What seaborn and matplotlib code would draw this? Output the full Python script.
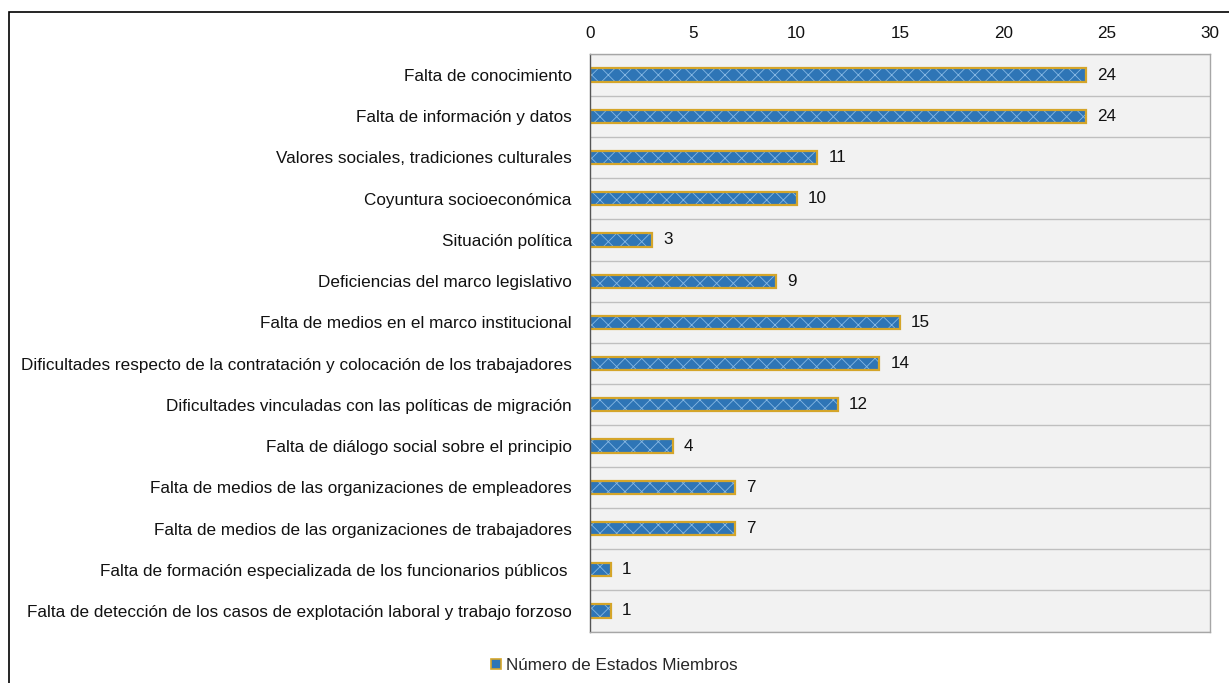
import pandas as pd
import seaborn as sns
import matplotlib.pyplot as plt
from matplotlib.patches import Patch, Rectangle

categories = [
    "Falta de conocimiento",
    "Falta de información y datos",
    "Valores sociales, tradiciones culturales",
    "Coyuntura socioeconómica",
    "Situación política",
    "Deficiencias del marco legislativo",
    "Falta de medios en el marco institucional",
    "Dificultades respecto de la contratación y colocación de los trabajadores",
    "Dificultades vinculadas con las políticas de migración",
    "Falta de diálogo social sobre el principio",
    "Falta de medios de las organizaciones de empleadores",
    "Falta de medios de las organizaciones de trabajadores",
    "Falta de formación especializada de los funcionarios públicos ",
    "Falta de detección de los casos de explotación laboral y trabajo forzoso",
]
values = [24, 24, 11, 10, 3, 9, 15, 14, 12, 4, 7, 7, 1, 1]
series_name = "Número de Estados Miembros"

df = pd.DataFrame({"cat": categories, "n": values})

sns.set_theme(style="white")
plt.rcParams['font.family'] = ['Liberation Sans', 'DejaVu Sans']
plt.rcParams['hatch.linewidth'] = 0.6

blue = '#2E75B6'
hatch_c = '#86B8E4'
gold = '#D4A52A'
fs = 12.3

fig = plt.figure(figsize=(12.29, 6.83), dpi=100)
ax = fig.add_axes([0.480, 0.0753, 0.5045, 0.845])
ax.set_facecolor('#F2F2F2')

# fill with hatch
sns.barplot(data=df, x="n", y="cat", orient="h", color=blue, width=0.32,
            edgecolor=hatch_c, linewidth=0, hatch='xx', saturation=1, ax=ax)
# gold outline on top
sns.barplot(data=df, x="n", y="cat", orient="h", fill=False, width=0.32,
            edgecolor=gold, linewidth=1.6, ax=ax)

for p in ax.containers[0]:
    p.set_hatch('xx')
ax.bar_label(ax.containers[1], padding=8, fontsize=fs, color='#111111')

ax.set_xlim(0, 30)
ax.set_ylim(len(categories) - 0.5, -0.5)
ax.set_xticks(range(0, 31, 5))
ax.xaxis.tick_top()
ax.tick_params(axis='x', length=0, pad=10, labelsize=fs, colors='#111111')
ax.tick_params(axis='y', which='major', length=0, pad=13, labelsize=fs, colors='#111111')
ax.set_yticks([i + 0.5 for i in range(-1, len(categories))], minor=True)
ax.tick_params(axis='y', which='minor', length=6, width=1, color='#555555', direction='out')
ax.grid(axis='y', which='minor', color='#BFBFBF', linewidth=1)
ax.grid(axis='x', visible=False)
ax.set_xlabel("")
ax.set_ylabel("")

for s in ['top', 'right', 'bottom']:
    ax.spines[s].set_color('#A6A6A6')
    ax.spines[s].set_linewidth(1)
ax.spines['left'].set_color('#555555')
ax.spines['left'].set_linewidth(1)

handle = Patch(facecolor=blue, edgecolor=gold, linewidth=1.2)
fig.legend([handle], [series_name], loc='lower center', bbox_to_anchor=(0.5, -0.008),
           frameon=False, fontsize=fs, handlelength=0.6, handleheight=0.6,
           handletextpad=0.3)

# outer chart border
fig.patches.append(Rectangle((9 / 1229, -0.05), 1.2, 1 - 12 / 683 + 0.05,
                             transform=fig.transFigure, fill=False,
                             edgecolor='black', linewidth=1.2))

fig.savefig("out.png", dpi=100)
